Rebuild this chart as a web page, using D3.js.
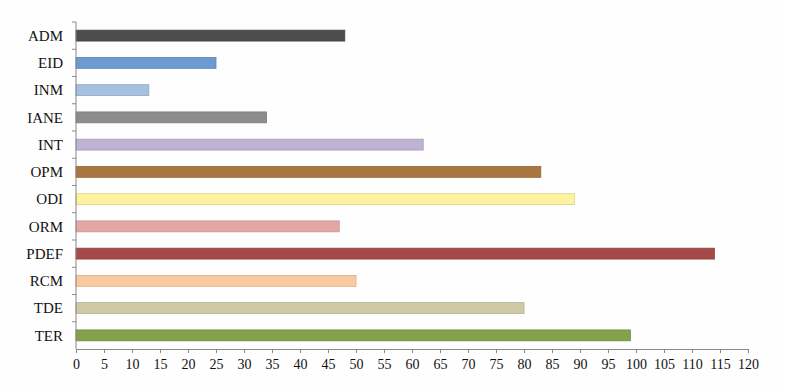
<!DOCTYPE html>
<html>
<head>
<meta charset="utf-8">
<script src="https://cdn.jsdelivr.net/npm/d3@7"></script>
<style>
  body { margin: 0; background: #fefefe; }
  text { font-family: "Liberation Serif", "Times New Roman", serif; }
</style>
</head>
<body>
<div id="bar-chart"></div>
<script>
const categories = ['ADM', 'EID', 'INM', 'IANE', 'INT', 'OPM', 'ODI', 'ORM', 'PDEF', 'RCM', 'TDE', 'TER'];
const values = [48, 25, 13, 34, 62, 83, 89, 47, 114, 50, 80, 99];
const colors = ['#4d4d4d', '#6b9bd1', '#a6c1e0', '#8d8d8d', '#c0b2d2', '#a8773f', '#fdf29f', '#e4a7a6', '#a64a49', '#fac9a0', '#cfc9a6', '#83a24a'];
const xTicks = d3.range(0, 121, 5);

const width = 785;
const height = 391;
const margin = { top: 22, right: 37, bottom: 42, left: 76 };

const svg = d3.select('#bar-chart')
  .append('svg')
  .attr('width', width)
  .attr('height', height);

const x = d3.scaleLinear()
  .domain([0, 120])
  .range([margin.left, width - margin.right]);

const y = d3.scaleBand()
  .domain(categories)
  .range([margin.top, height - margin.bottom])
  .paddingInner(0.6)
  .paddingOuter(0.3);

const yAxisScale = d3.scaleBand()
  .domain(categories)
  .range([margin.top, height - margin.bottom]);

// bars
svg.selectAll('.bar')
  .data(categories)
  .enter()
  .append('rect')
  .attr('class', 'bar')
  .attr('x', x(0))
  .attr('y', d => y(d))
  .attr('width', (d, i) => x(values[i]) - x(0))
  .attr('height', y.bandwidth())
  .attr('fill', (d, i) => colors[i])
  .attr('stroke', (d, i) => d3.color(colors[i]).darker(0.4))
  .attr('stroke-width', 0.8);

// y axis: ticks at band boundaries
const yAxis = svg.append('g')
  .attr('transform', `translate(${margin.left},0)`);

yAxis.append('line')
  .attr('x1', 0).attr('x2', 0)
  .attr('y1', margin.top).attr('y2', height - margin.bottom)
  .attr('stroke', '#888');

yAxis.selectAll('.ytick')
  .data(categories)
  .enter()
  .append('line')
  .attr('x1', -4).attr('x2', 0)
  .attr('y1', d => yAxisScale(d))
  .attr('y2', d => yAxisScale(d))
  .attr('stroke', '#888');

yAxis.selectAll('.ylabel')
  .data(categories)
  .enter()
  .append('text')
  .attr('x', -13)
  .attr('y', d => yAxisScale(d) + yAxisScale.bandwidth() / 2)
  .attr('dy', '0.35em')
  .attr('text-anchor', 'end')
  .attr('font-size', 15)
  .attr('fill', '#111')
  .text(d => d);

// x axis
const xAxis = svg.append('g')
  .attr('transform', `translate(0,${height - margin.bottom})`)
  .call(d3.axisBottom(x).tickValues(xTicks).tickSize(4).tickSizeOuter(0).tickPadding(6));

xAxis.select('.domain').attr('stroke', '#888');
xAxis.selectAll('.tick line').attr('stroke', '#888');
xAxis.selectAll('.tick text')
  .attr('font-size', 14)
  .attr('fill', '#111')
  .style('font-family', '"Liberation Serif", "Times New Roman", serif');
</script>
</body>
</html>
